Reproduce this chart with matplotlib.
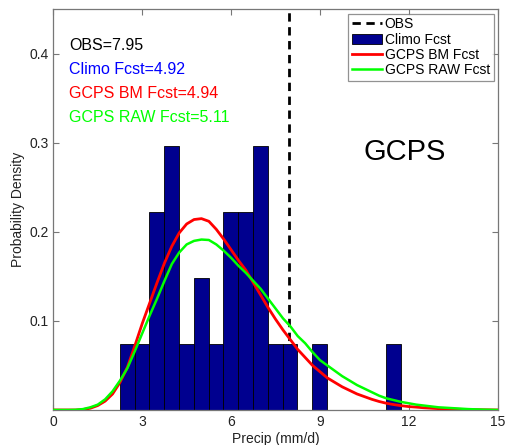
import numpy as np
import matplotlib
matplotlib.use("Agg")
import matplotlib.pyplot as plt

plt.rcParams['font.family'] = ['Liberation Sans', 'DejaVu Sans']

# histogram of climatology (27 samples, 0.5 mm/d bins)
bin_left = [2.24, 2.74, 3.24, 3.74, 4.24, 4.74, 5.24, 5.74, 6.24, 6.74,
            7.24, 7.74, 8.24, 8.74, 9.24, 9.74, 10.24, 10.74, 11.24]
bin_count = [1, 1, 3, 4, 1, 2, 1, 3, 3, 4, 1, 1, 0, 1, 0, 0, 0, 0, 1]
bin_width = 0.5

# forecast pdfs
precip = [0.0, 0.25, 0.5, 0.75, 1.0, 1.25, 1.5, 1.75, 2.0, 2.25, 2.5, 2.75,
          3.0, 3.25, 3.5, 3.75, 4.0, 4.25, 4.5, 4.75, 5.0, 5.25, 5.5, 5.75,
          6.0, 6.25, 6.5, 6.75, 7.0, 7.25, 7.5, 7.75, 8.0, 8.25, 8.5, 8.75,
          9.0, 9.25, 9.5, 9.75, 10.0, 10.25, 10.5, 10.75, 11.0, 11.25, 11.5,
          11.75, 12.0, 12.25, 12.5, 12.75, 13.0, 13.25, 13.5, 13.75, 14.0,
          14.25, 14.5, 14.75, 15.0]
bm_pdf = [0, 0, 0, 0, 0.0005, 0.002, 0.005, 0.010, 0.018, 0.031, 0.048, 0.072,
          0.097, 0.120, 0.143, 0.165, 0.184, 0.199, 0.209, 0.214, 0.215, 0.212,
          0.203, 0.192, 0.180, 0.168, 0.157, 0.143, 0.129, 0.115, 0.102, 0.090,
          0.079, 0.068, 0.059, 0.050, 0.043, 0.036, 0.031, 0.026, 0.022, 0.018,
          0.015, 0.012, 0.0095, 0.0075, 0.006, 0.0048, 0.0038, 0.0032, 0.0025,
          0.002, 0.0015, 0.0012, 0.001, 0.0007, 0.0005, 0.0003, 0.0002, 0.0001, 0]
raw_pdf = [0, 0, 0, 0.0002, 0.001, 0.003, 0.006, 0.012, 0.021, 0.033, 0.047,
           0.066, 0.086, 0.106, 0.125, 0.145, 0.164, 0.177, 0.186, 0.190, 0.1915,
           0.191, 0.186, 0.179, 0.171, 0.162, 0.154, 0.145, 0.136, 0.125, 0.114,
           0.103, 0.094, 0.083, 0.075, 0.065, 0.056, 0.050, 0.044, 0.038, 0.033,
           0.028, 0.024, 0.020, 0.016, 0.013, 0.011, 0.009, 0.0075, 0.006, 0.005,
           0.004, 0.003, 0.0025, 0.002, 0.0015, 0.001, 0.0007, 0.0004, 0.0002, 0]

obs = 7.95
climo_fcst = 4.92
bm_fcst = 4.94
raw_fcst = 5.11

n_samples = sum(bin_count)
density = [c / (n_samples * bin_width) for c in bin_count]

fig = plt.figure(figsize=(5.05, 4.45), dpi=100)
ax = fig.add_axes([0.1056, 0.0787, 0.88, 0.90])

h_obs = ax.axvline(obs, color='black', ls=(0, (3, 2)), lw=2, zorder=1)
h_clim = ax.bar(bin_left, density, width=bin_width, align='edge', color='#00008F',
                edgecolor='black', linewidth=0.6, zorder=2)
h_bm, = ax.plot(precip, bm_pdf, color='#FF0000', lw=2, zorder=3)
h_raw, = ax.plot(precip, raw_pdf, color='#00FF00', lw=1.8, zorder=3)

ax.set_xlim(0, 15)
ax.set_ylim(0, 0.45)
ax.set_xticks([0, 3, 6, 9, 12, 15])
ax.set_yticks([0.1, 0.2, 0.3, 0.4])
ax.tick_params(direction='in', length=4, width=0.8, top=True, right=True,
               labelsize=10, color='#777777', labelcolor='#222222')
for s in ax.spines.values():
    s.set_color('#777777')
    s.set_linewidth(0.9)

ax.set_xlabel('Precip (mm/d)', fontsize=10, color='#222222', labelpad=2)
ax.set_ylabel('Probability Density', fontsize=10, color='#222222', labelpad=3)

ax.text(0.035, 0.91, f'OBS={obs:.2f}', transform=ax.transAxes, fontsize=11.5,
        color='black', va='center')
ax.text(0.035, 0.85, f'Climo Fcst={climo_fcst:.2f}', transform=ax.transAxes,
        fontsize=11.5, color='#0000FF', va='center')
ax.text(0.035, 0.79, f'GCPS BM Fcst={bm_fcst:.2f}', transform=ax.transAxes,
        fontsize=11.5, color='#FF0000', va='center')
ax.text(0.035, 0.73, f'GCPS RAW Fcst={raw_fcst:.2f}', transform=ax.transAxes,
        fontsize=11.5, color='#00FF00', va='center')
ax.text(0.79, 0.645, 'GCPS', transform=ax.transAxes, fontsize=21,
        color='black', ha='center', va='center')

leg = ax.legend([h_obs, h_clim, h_bm, h_raw],
                ['OBS', 'Climo Fcst', 'GCPS BM Fcst', 'GCPS RAW Fcst'],
                loc='upper right', fontsize=10, frameon=True, fancybox=False,
                handlelength=2.2, handletextpad=0.2, labelspacing=0.1,
                borderpad=0.25, borderaxespad=0.3)
leg.get_frame().set_edgecolor('#777777')
leg.get_frame().set_linewidth(0.9)

fig.savefig('out.png', dpi=100)
